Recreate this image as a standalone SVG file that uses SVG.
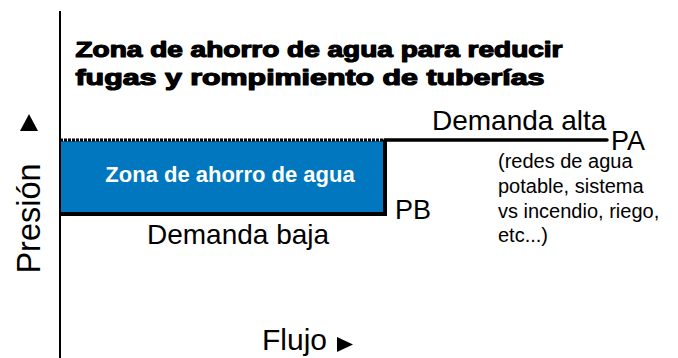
<svg xmlns="http://www.w3.org/2000/svg" width="678" height="358" viewBox="0 0 678 358">
<style>
.t{font-family:"Liberation Sans",Arial,Helvetica,sans-serif;fill:#000}
.title{font-size:21.5px;font-weight:bold;stroke:#000;stroke-width:1.2;stroke-linejoin:round}
.lbl{font-size:28px}
.p{font-size:27px}
.note{font-size:20px}
.zone{font-size:22px;font-weight:bold;fill:#fff}
</style>
<rect width="678" height="358" fill="#fff"/>
<g id="axes">
<line x1="60" y1="11" x2="60" y2="358" stroke="#000" stroke-width="2"/>
<polygon points="20,131 38,131 29,114" fill="#000"/>
<polygon points="337,337 337,352 353,344.5" fill="#000"/>
<text class="t" x="0" y="0" font-size="32.5" transform="translate(39.5,218.5) rotate(-90)" text-anchor="middle">Presión</text>
<text class="t" x="262" y="350" font-size="30">Flujo</text>
</g>
<g id="title">
<text class="t title" x="75.5" y="57" textLength="487" lengthAdjust="spacingAndGlyphs">Zona de ahorro de agua para reducir</text>
<text class="t title" x="75.5" y="85" textLength="469" lengthAdjust="spacingAndGlyphs">fugas y rompimiento de tuberías</text>
</g>
<g id="zone">
<rect x="61" y="141" width="324" height="73" fill="#0077BE"/>
<text class="t zone" x="230" y="182" text-anchor="middle">Zona de ahorro de agua</text>
</g>
<g id="connectors" fill="none" stroke="#000">
<line x1="60" y1="140" x2="385" y2="140" stroke-width="3" stroke-dasharray="3 1"/>
<line x1="385" y1="140" x2="607" y2="140" stroke-width="3.5" stroke-linecap="round"/>
<polyline points="60,214 385,214 385,140" stroke-width="4"/>
</g>
<g id="labels">
<text class="t lbl" x="432" y="130">Demanda alta</text>
<text class="t p" x="611" y="150">PA</text>
<text class="t p" x="395" y="219">PB</text>
<text class="t lbl" x="147" y="244">Demanda baja</text>
<text class="t note" x="498" y="168">(redes de agua</text>
<text class="t note" x="498" y="193">potable, sistema</text>
<text class="t note" x="498" y="218">vs incendio, riego,</text>
<text class="t note" x="498" y="242">etc...)</text>
</g>
</svg>
